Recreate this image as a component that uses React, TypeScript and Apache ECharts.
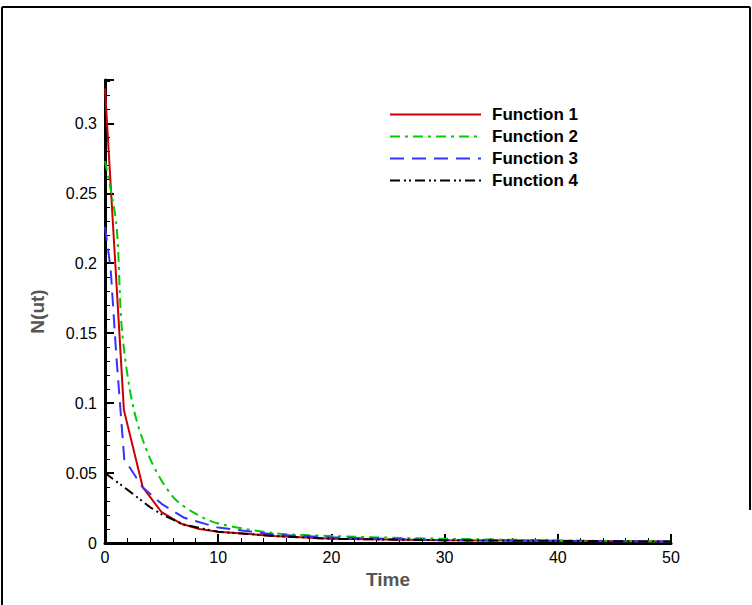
import React, { useRef, useEffect } from 'react';
import * as echarts from 'echarts';

const f1: [number, number][] = [[0, 0.325], [1.67, 0.095], [3.33, 0.04], [5, 0.022], [6.67, 0.014], [8.33, 0.01], [10, 0.008], [15, 0.005], [20, 0.003], [30, 0.002], [50, 0.001]];
const f2: [number, number][] = [[0, 0.273], [1, 0.228], [1.5, 0.152], [2.5, 0.097], [4, 0.06], [6, 0.033], [8, 0.021], [10, 0.014], [15, 0.007], [20, 0.005], [30, 0.003], [50, 0.001]];
const f3: [number, number][] = [[0, 0.226], [0.5, 0.196], [1, 0.134], [1.7, 0.06], [3.3, 0.04], [5, 0.028], [7, 0.018], [10, 0.011], [15, 0.006], [20, 0.004], [30, 0.002], [50, 0.001]];
const f4: [number, number][] = [[0, 0.05], [2, 0.038], [4, 0.0255], [5, 0.0205], [7, 0.013], [10, 0.008], [15, 0.005], [20, 0.003], [30, 0.002], [50, 0.001]];

const names = ['Function 1', 'Function 2', 'Function 3', 'Function 4'];
const colors = ['#cc0000', '#00cc00', '#3333ff', '#000000'];
const dashes: any[] = ['solid', [10, 5, 3, 5], [14, 8], [10, 4, 2, 3, 2, 4]];
const seriesData = [f1, f2, f3, f4];

export default function App() {
  const ref = useRef<HTMLDivElement>(null);
  useEffect(() => {
    document.body.style.margin = '0';
    if (!ref.current) return;
    const chart = echarts.init(ref.current, null, { renderer: 'svg' });
    const font = 'Liberation Sans, Arial, sans-serif';
    const frame = { stroke: '#000', lineWidth: 2 };
    chart.setOption({
      animation: false,
      textStyle: { fontFamily: font },
      graphic: [
        { type: 'line', z: 100, shape: { x1: 2, y1: 7, x2: 2, y2: 605 }, style: frame },
        { type: 'line', z: 100, shape: { x1: 2, y1: 7, x2: 750, y2: 7 }, style: frame },
        { type: 'line', z: 100, shape: { x1: 750, y1: 7, x2: 750, y2: 510 }, style: frame }
      ],
      legend: {
        left: 384, top: 101, orient: 'vertical', itemGap: 5, itemWidth: 91, itemHeight: 17,
        itemStyle: { opacity: 0 },
        textStyle: { fontWeight: 'bold', fontSize: 17, color: '#000', fontFamily: font, padding: [0, 0, 0, 6] },
        data: names
      },
      grid: { left: 105, right: 81, top: 80, bottom: 62 },
      xAxis: {
        type: 'value', min: 0, max: 50, interval: 10, name: 'Time', nameLocation: 'middle', nameGap: 26,
        nameTextStyle: { fontWeight: 'bold', fontSize: 19, color: '#555' },
        axisLine: { lineStyle: { color: '#000', width: 3 } },
        axisTick: { inside: true, length: 9, lineStyle: { color: '#000', width: 2 } },
        minorTick: { show: true, splitNumber: 5, length: 5, lineStyle: { color: '#000' } },
        axisLabel: { color: '#000', fontSize: 16, margin: 6 },
        splitLine: { show: false }
      },
      yAxis: {
        type: 'value', min: 0, max: 0.331, interval: 0.05, name: 'N(ut)', nameLocation: 'middle', nameGap: 58,
        nameTextStyle: { fontWeight: 'bold', fontSize: 19, color: '#555' },
        axisLine: { lineStyle: { color: '#000', width: 3 } },
        axisTick: { inside: true, length: 9, lineStyle: { color: '#000', width: 2 } },
        minorTick: { show: true, splitNumber: 5, length: 5, lineStyle: { color: '#000' } },
        axisLabel: { color: '#000', fontSize: 16, margin: 8, showMaxLabel: false },
        splitLine: { show: false }
      },
      series: seriesData.map((d, i) => ({
        name: names[i], type: 'line', data: d, symbol: 'none', smooth: i === 1 ? 0.3 : false,
        color: colors[i],
        lineStyle: { color: colors[i], width: 2, type: dashes[i] }
      }))
    });
    return () => chart.dispose();
  }, []);
  return <div ref={ref} style={{ width: 752, height: 605 }} />;
}
